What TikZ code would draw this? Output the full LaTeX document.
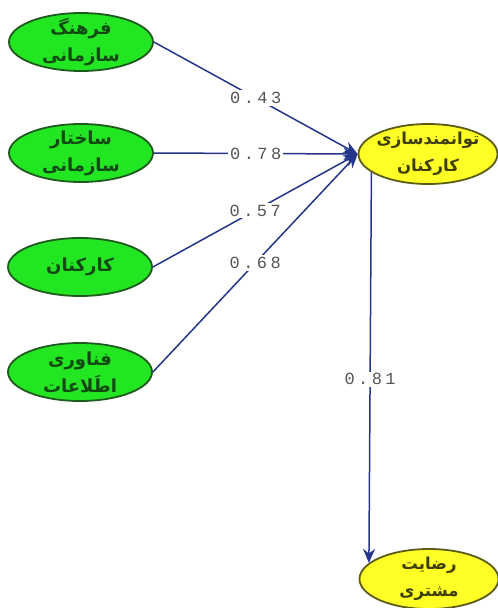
\documentclass[tikz,border=0pt]{standalone}
\usepackage{fontspec}
\usepackage{tikz}
\usetikzlibrary{arrows.meta,shapes.geometric}
\TeXXeTstate=1
\newfontfamily\arabicfont[Script=Arabic]{DejaVu Sans}
\newfontfamily\coeffont[LetterSpace=20]{Liberation Mono}
\definecolor{Leaf}{HTML}{22E622}
\definecolor{LeafEdge}{HTML}{1E5A1E}
\definecolor{LeafInk}{HTML}{124812}
\definecolor{Lemon}{HTML}{FFFF26}
\definecolor{LemonEdge}{HTML}{5C5C14}
\definecolor{LemonInk}{HTML}{3E3E0C}
\definecolor{Navy}{HTML}{25358A}
\definecolor{Coef}{HTML}{555555}

\begin{document}
\begin{tikzpicture}[x=1pt,y=1pt,exo/.style={ellipse,draw=LeafEdge,fill=Leaf,text=LeafInk,line width=1.8pt,minimum width=144pt,minimum height=58pt,inner xsep=-25pt,inner ysep=-14pt,align=center,font=\arabicfont\bfseries\fontsize{18}{27}\selectfont},endo/.style={exo,draw=LemonEdge,fill=Lemon,text=LemonInk,minimum width=139pt,minimum height=60pt,font=\arabicfont\bfseries\fontsize{16.5}{27}\selectfont},arr/.style={-{Stealth[length=14pt,width=12pt]},draw=Navy,fill=Navy,line width=1.5pt},coef/.style={fill=white,text=Coef,inner sep=2pt,font=\coeffont\fontsize{17}{17}\selectfont}]
\useasboundingbox (0,0) rectangle (498,-608);
\node[exo] (cult) at (81,-42) {\beginR فرهنگ\endR\\\beginR سازمانی\endR};
\node[exo] (struct) at (81,-153) {\beginR ساختار\endR\\\beginR سازمانی\endR};
\node[exo] (staff) at (80,-267) {\beginR کارکنان\endR};
\node[exo] (ict) at (80,-372) {\beginR فناوری\endR\\\beginR اطَلاعات\endR};
\node[endo] (emp) at (428,-154) {\beginR توانمندسازی\endR\\\beginR کارکنان\endR};
\node[endo] (sat) at (429,-579) {\beginR رضایت\endR\\\beginR مشتری\endR};
\draw[arr] (cult.east) -- node[coef]{0.43} (emp.west);
\draw[arr] (struct.east) -- node[coef]{0.78} (emp.west);
\draw[arr] (staff.east) -- node[coef]{0.57} (emp.west);
\draw[arr] (ict.east) -- node[coef]{0.68} (emp.west);
\draw[arr] (emp.198) -- node[coef,pos=0.53]{0.81} (sat.165);
\end{tikzpicture}
\end{document}
